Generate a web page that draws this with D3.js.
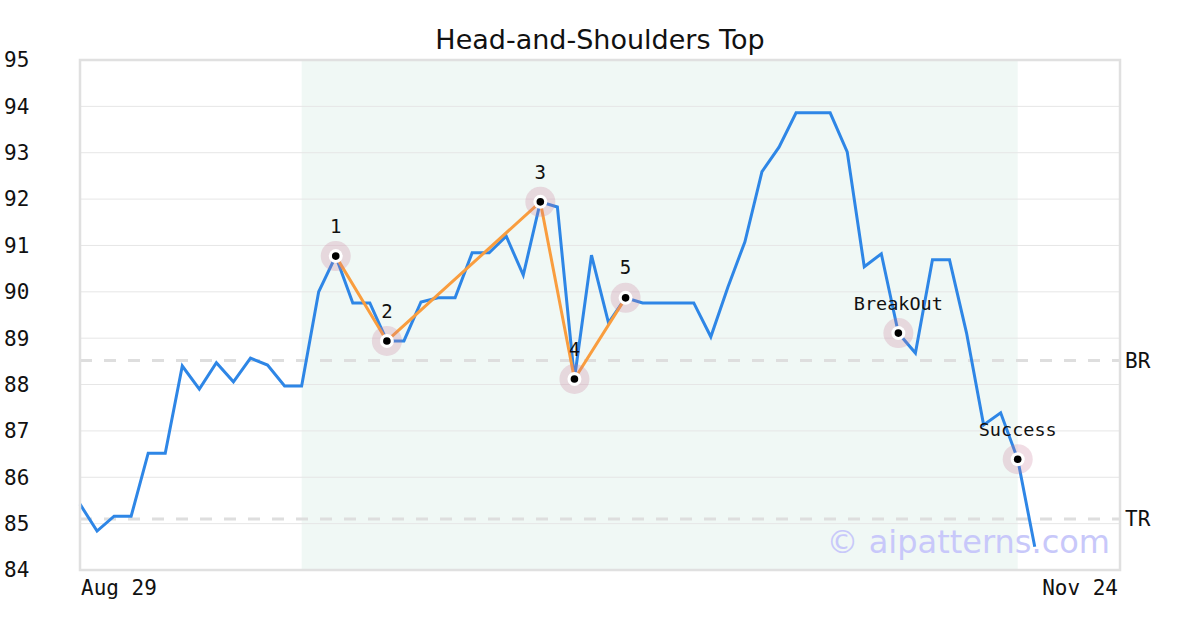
<!DOCTYPE html>
<html lang="en">
<head>
<meta charset="utf-8">
<title>Head-and-Shoulders Top</title>
<script src="https://d3js.org/d3.v7.min.js"></script>
<style>
  body { margin: 0; background: #fff; }
  text { font-family: "DejaVu Sans Mono", monospace; fill: #111; }
</style>
</head>
<body>
<script>
var width = 1200,
    height = 630;

// price series, one value per bar (index 0 = Aug 29)
var prices = [
  85.42, 84.84, 85.16, 85.16, 86.52, 86.52, 88.40, 87.90, 88.47, 88.06,
  88.57, 88.42, 87.97, 87.97, 90.00, 90.77, 89.76, 89.76, 88.94, 88.94,
  89.78, 89.87, 89.87, 90.84, 90.84, 91.20, 90.36, 91.94, 91.83, 88.12,
  90.79, 89.33, 89.87, 89.76, 89.76, 89.76, 89.76, 89.03, 90.10, 91.08,
  92.59, 93.12, 93.86, 93.86, 93.86, 93.02, 90.54, 90.82, 89.11, 88.68,
  90.69, 90.69, 89.11, 87.13, 87.39, 86.39, 84.50
];

// pattern points (index into prices)
var pivotIdx = [15, 18, 27, 29, 32];
var pivotLabels = ["1", "2", "3", "4", "5"];
var eventIdx = [48, 55];
var eventLabels = ["BreakOut", "Success"];

var levels = [88.52, 85.10];
var levelLabels = ["BR", "TR"];

var patternRange = [13, 55];
var xDomain = [0, 61];
var xTickLabels = ["Aug 29", "Nov 24"];
var yTicks = [84, 85, 86, 87, 88, 89, 90, 91, 92, 93, 94, 95];

var margin = {top: 60, right: 80, bottom: 60, left: 80};
var iw = width - margin.left - margin.right,
    ih = height - margin.top - margin.bottom;

var svg = d3.select("body").append("svg")
    .attr("width", width)
    .attr("height", height);

var x = d3.scaleLinear().domain(xDomain).range([margin.left, margin.left + iw]);
var y = d3.scaleLinear().domain([84, 95]).range([margin.top + ih, margin.top]);

// title
svg.append("text")
    .attr("x", width / 2).attr("y", 49)
    .attr("text-anchor", "middle")
    .style("font-family", "'DejaVu Sans', sans-serif")
    .style("font-size", "27px")
    .text("Head-and-Shoulders Top");

// pattern shading
svg.append("rect")
    .attr("x", x(patternRange[0]))
    .attr("y", margin.top)
    .attr("width", x(patternRange[1]) - x(patternRange[0]))
    .attr("height", ih)
    .style("fill", "#f0f8f5");

// grid
svg.append("g").selectAll("line")
  .data(yTicks.slice(1, -1))
  .enter().append("line")
    .attr("x1", margin.left).attr("x2", margin.left + iw)
    .attr("y1", d => y(d)).attr("y2", d => y(d))
    .style("stroke", "#e6e6e6")
    .style("stroke-width", 1);

// y tick labels
svg.append("g").selectAll("text")
  .data(yTicks)
  .enter().append("text")
    .attr("x", 4)
    .attr("y", d => y(d))
    .attr("dy", "0.35em")
    .style("font-size", "21px")
    .text(d => d);

// x tick labels
svg.append("text")
    .attr("x", x(xDomain[0]) + 1).attr("y", 595)
    .style("font-size", "21px")
    .text(xTickLabels[0]);
svg.append("text")
    .attr("x", x(xDomain[1]) - 2).attr("y", 595)
    .attr("text-anchor", "end")
    .style("font-size", "21px")
    .text(xTickLabels[1]);

// BR / TR levels
levels.forEach(function(v, i) {
  svg.append("line")
      .attr("x1", margin.left).attr("x2", margin.left + iw)
      .attr("y1", y(v)).attr("y2", y(v))
      .style("stroke", "#dedede")
      .style("stroke-width", 3)
      .style("stroke-dasharray", "12,12");
  svg.append("text")
      .attr("x", margin.left + iw + 5)
      .attr("y", y(v))
      .attr("dy", "0.35em")
      .style("font-size", "21px")
      .text(levelLabels[i]);
});

// watermark
svg.append("text")
    .attr("x", 1110).attr("y", 553)
    .attr("text-anchor", "end")
    .style("font-family", "'DejaVu Sans', sans-serif")
    .style("font-size", "32px")
    .style("fill", "#c8c8fa")
    .text("\u00a9 aipatterns.com");

// price line
var line = d3.line()
    .x((d, i) => x(i))
    .y(d => y(d));

svg.append("path")
    .datum(prices)
    .attr("d", line)
    .style("fill", "none")
    .style("stroke", "#2e86e6")
    .style("stroke-width", 3);

// pattern connector
svg.append("path")
    .datum(pivotIdx)
    .attr("d", d3.line().x(d => x(d)).y(d => y(prices[d])))
    .style("fill", "none")
    .style("stroke", "#f99d3e")
    .style("stroke-width", 3);

// plot border
svg.append("rect")
    .attr("x", margin.left).attr("y", margin.top)
    .attr("width", iw).attr("height", ih)
    .style("fill", "none")
    .style("stroke", "#e0e0e0")
    .style("stroke-width", 2.5);

function marker(idx, label, size) {
  var cx = x(idx), cy = y(prices[idx]);
  var g = svg.append("g");
  g.append("circle").attr("cx", cx).attr("cy", cy).attr("r", 15)
      .style("fill", "rgba(200,120,150,0.25)");
  g.append("circle").attr("cx", cx).attr("cy", cy).attr("r", 7)
      .style("fill", "#fff");
  g.append("circle").attr("cx", cx).attr("cy", cy).attr("r", 3.8)
      .style("fill", "#000");
  g.append("text")
      .attr("x", cx).attr("y", cy - 30)
      .attr("dy", "0.35em")
      .attr("text-anchor", "middle")
      .style("font-size", size)
      .text(label);
}

pivotIdx.forEach((d, i) => marker(d, pivotLabels[i], "19px"));
eventIdx.forEach((d, i) => marker(d, eventLabels[i], "18.5px"));
</script>
</body>
</html>
